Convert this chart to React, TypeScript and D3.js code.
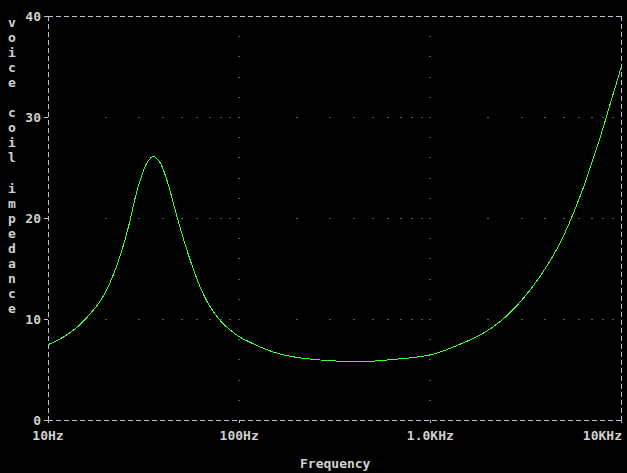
import React from "react";
import * as d3 from "d3";

const freqs = [10, 12, 13.6, 15, 16.6, 18.5, 20.3, 22.5, 24.8, 26.9, 28.5, 30.3, 32.8, 35.5, 38.5, 41.8, 45.2, 49, 55.3, 62.4, 70, 80, 90, 100, 113.9, 133.7, 163.5, 200, 254, 337, 483, 615, 782, 1000, 1122, 1428, 1817, 2312, 2942, 3743, 4763, 6060, 7710, 8696, 10000];
const impedance = [7.45, 8.2, 8.9, 9.6, 10.5, 11.6, 12.9, 14.9, 17.3, 19.8, 21.9, 23.7, 25.4, 26.1, 25.5, 23.8, 21.5, 19.1, 15.9, 13.2, 11.3, 9.8, 8.9, 8.25, 7.7, 7.1, 6.53, 6.2, 5.97, 5.82, 5.81, 5.97, 6.15, 6.45, 6.72, 7.5, 8.4, 9.73, 11.65, 14.2, 17.5, 22.1, 27.9, 31.2, 35.0];

const xTickValues = [10, 100, 1000, 10000];
const xTickLabels = ["10Hz", "100Hz", "1.0KHz", "10KHz"];
const yTickValues = [0, 10, 20, 30, 40];
const yTitle = "voice coil impedance";
const xTitle = "Frequency";

const W = 627, H = 473;
const L = 48, R = 621.5, T = 16, B = 420;
const AXIS = "#c4bcd4";
const TEXT = "#d0d0d0";
const FONT = "'DejaVu Sans Mono', monospace";

export default function App() {
  const x = d3.scaleLog().domain([10, 10000]).range([L, R]);
  const y = d3.scaleLinear().domain([0, 40]).range([B, T]);
  const pts: [number, number][] = freqs.map((f, i) => [x(f), y(impedance[i])]);
  const line = d3.line().curve(d3.curveCatmullRom.alpha(0.5))(pts) || "";

  const minorF: number[] = [];
  [10, 100, 1000].forEach((d) => {
    for (let k = 2; k <= 10; k++) minorF.push(d * k);
  });
  const hDots: [number, number][] = [];
  [10, 20, 30].forEach((v) => minorF.filter((f) => f < 10000).forEach((f) => hDots.push([x(f), y(v)])));
  const vDots: [number, number][] = [];
  [100, 1000].forEach((f) => {
    for (let v = 2; v < 40; v += 2) if (v % 10 !== 0) vDots.push([x(f), y(v)]);
  });

  return (
    <svg width={W} height={H} style={{ position: "absolute", left: 0, top: 0, background: "#000" }}>
      <rect x={0} y={0} width={W} height={H} fill="#000" />
      {[...hDots, ...vDots].map(([px, py], i) => (
        <rect key={"d" + i} x={Math.round(px) - 0.5} y={Math.round(py)} width={1} height={1} fill="#b8b8c8" />
      ))}
      <g stroke={AXIS} strokeWidth={1} shapeRendering="crispEdges" fill="none">
        <line x1={L} y1={T} x2={R} y2={T} strokeDasharray="5,3" />
        <line x1={L} y1={B} x2={R} y2={B} strokeDasharray="5,3" />
        <line x1={L} y1={T} x2={L} y2={B} strokeDasharray="5,3" />
        <line x1={R} y1={T} x2={R} y2={B} strokeDasharray="5,3" />
        {yTickValues.map((v) => (
          <line key={"yt" + v} x1={L - 4} x2={L} y1={y(v)} y2={y(v)} />
        ))}
        {xTickValues.map((f) => (
          <line key={"xt" + f} x1={x(f)} x2={x(f)} y1={B} y2={B + 3} />
        ))}
      </g>
      <path d={line} fill="none" stroke="#40ff40" strokeWidth={1} shapeRendering="crispEdges" />
      <g fontFamily={FONT} fontSize={13} fontWeight="bold" fill={TEXT}>
        {yTickValues.map((v) => (
          <text key={"yl" + v} x={41} y={y(v)} textAnchor="end" dominantBaseline="central">
            {v}
          </text>
        ))}
        {xTickValues.map((f, i) => (
          <text key={"xl" + f} x={i === xTickValues.length - 1 ? 622 : x(f)} y={440} textAnchor={i === xTickValues.length - 1 ? "end" : "middle"}>
            {xTickLabels[i]}
          </text>
        ))}
        <text x={300} y={468}>{xTitle}</text>
        {yTitle.split("").map((c, i) => (
          <text key={"yc" + i} x={12} y={26.5 + 15.1 * i} textAnchor="middle">
            {c === " " ? "" : c}
          </text>
        ))}
      </g>
    </svg>
  );
}
